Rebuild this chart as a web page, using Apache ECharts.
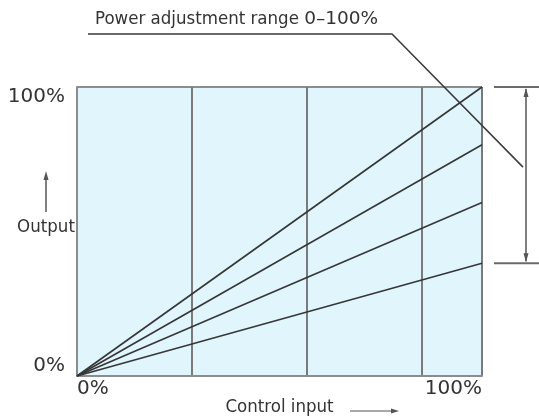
<!DOCTYPE html>
<html><head><meta charset="utf-8">
<script src="https://cdn.jsdelivr.net/npm/echarts@6/dist/echarts.min.js"></script>
<style>html,body{margin:0;padding:0;background:#fff}#c{width:539px;height:420px}</style>
</head><body><div id="c"></div>
<script>
// ---- data ----
const inputRange = [0, 100];            // control input (%)
const outputEnds = [100, 80, 60, 39];   // output (%) at 100% control input, one per line
const xTickLabels = ['0%', '100%'];
const yTickLabels = ['0%', '100%'];
const gridStep = 28.4;                  // spacing of vertical grid lines (% of input)
const titleMain = 'Power adjustment range ';
const titleRange = '0–100%';
const xName = 'Control input';
const yName = 'Output';

const narrow = "'DejaVu Sans Condensed',sans-serif";
const wide = "'DejaVu Sans',sans-serif";
const ink = '#333';

const chart = echarts.init(document.getElementById('c'), null, {renderer: 'canvas'});

const series = outputEnds.map((v, i) => ({
  type: 'line',
  name: 'L' + i,
  data: [[inputRange[0], 0], [inputRange[1], v]],
  symbol: 'none',
  lineStyle: {color: '#363636', width: 1.6},
  silent: true,
  z: 5
}));

chart.setOption({
  animation: false,
  grid: {left: 77, right: 57, top: 87, bottom: 44, show: true, backgroundColor: '#e1f5fd', borderWidth: 0},
  xAxis: {
    type: 'value', min: inputRange[0], max: inputRange[1], interval: gridStep,
    axisLine: {show: true, lineStyle: {color: '#8c8c8c', width: 2}},
    axisTick: {show: false},
    splitLine: {show: true, lineStyle: {color: '#7a7a7a', width: 2}},
    axisLabel: {
      fontFamily: wide, fontSize: 20, color: ink, margin: 3,
      showMinLabel: true, showMaxLabel: true,
      alignMinLabel: 'left', alignMaxLabel: 'right',
      formatter: v => v === inputRange[0] ? xTickLabels[0] : (v === inputRange[1] ? xTickLabels[1] : '')
    }
  },
  yAxis: {
    type: 'value', min: 0, max: 100, interval: 100,
    axisLine: {show: true, lineStyle: {color: '#8c8c8c', width: 2}},
    axisTick: {show: false},
    splitLine: {show: true, lineStyle: {color: '#8c8c8c', width: 2}},
    axisLabel: {
      fontFamily: wide, fontSize: 20, color: ink, margin: 12,
      showMinLabel: true, showMaxLabel: true,
      verticalAlignMinLabel: 'bottom', verticalAlignMaxLabel: 'top',
      formatter: v => v === 0 ? yTickLabels[0] : (v === 100 ? yTickLabels[1] : '')
    }
  },
  series: series
});

// ---- annotations (anchored to the data through the grid) ----
const pTop = chart.convertToPixel({gridIndex: 0}, [inputRange[1], outputEnds[0]]);
const pBot = chart.convertToPixel({gridIndex: 0}, [inputRange[1], outputEnds[outputEnds.length - 1]]);
const pOrig = chart.convertToPixel({gridIndex: 0}, [inputRange[0], 0]);
const bx0 = pTop[0] + 12, bx1 = 539, vx = pTop[0] + 44;
const gray = '#555';

function head(x, y, dir, len, half, color) {
  let pts;
  if (dir === 'up') pts = [[x, y], [x - half, y + len], [x + half, y + len]];
  else if (dir === 'down') pts = [[x, y], [x - half, y - len], [x + half, y - len]];
  else pts = [[x, y], [x - len, y - half], [x - len, y + half]];
  return {type: 'polygon', shape: {points: pts}, style: {fill: color}, silent: true};
}

const midY = (pTop[1] + pBot[1]) / 2;
const elements = [
  // bracket
  {type: 'line', shape: {x1: bx0, y1: pTop[1], x2: bx1, y2: pTop[1]}, style: {stroke: '#6a6a6a', lineWidth: 2}},
  {type: 'line', shape: {x1: bx0, y1: pBot[1], x2: bx1, y2: pBot[1]}, style: {stroke: '#6a6a6a', lineWidth: 2}},
  {type: 'line', shape: {x1: vx, y1: pTop[1] + 2, x2: vx, y2: pBot[1] - 2}, style: {stroke: gray, lineWidth: 1.5}},
  head(vx, pTop[1] + 1, 'up', 9, 2.5, gray),
  head(vx, pBot[1] - 1, 'down', 9, 2.5, gray),
  // leader line with underline
  {type: 'polyline', shape: {points: [[88, 34], [392, 34], [vx - 3, midY - 8]]}, style: {stroke: '#3a3a3a', lineWidth: 1.5, fill: null}},
  // title text
  {type: 'text', left: 95, top: 10, style: {
    text: '{a|' + titleMain + '}{b|' + titleRange + '}',
    rich: {
      a: {fontFamily: narrow, fontSize: 18.5, fill: ink},
      b: {fontFamily: wide, fontSize: 18.5, fill: ink}
    }
  }},
  // y name with arrow
  {type: 'line', shape: {x1: 46, y1: 178, x2: 46, y2: 212}, style: {stroke: gray, lineWidth: 1.5}},
  head(46, 171, 'up', 9, 2.5, gray),
  {type: 'text', x: 46, y: 227, style: {text: yName, fontFamily: narrow, fontSize: 18.5, fill: ink, align: 'center', verticalAlign: 'middle'}},
  // x name with arrow
  {type: 'text', x: (pOrig[0] + pTop[0]) / 2, y: 407, style: {text: xName, fontFamily: narrow, fontSize: 18.5, fill: ink, align: 'center', verticalAlign: 'middle'}},
  {type: 'line', shape: {x1: 350, y1: 411, x2: 392, y2: 411}, style: {stroke: gray, lineWidth: 1.2}},
  head(399, 411, 'right', 8, 2.5, gray)
];
chart.setOption({graphic: {elements: elements}});
</script>
</body></html>
